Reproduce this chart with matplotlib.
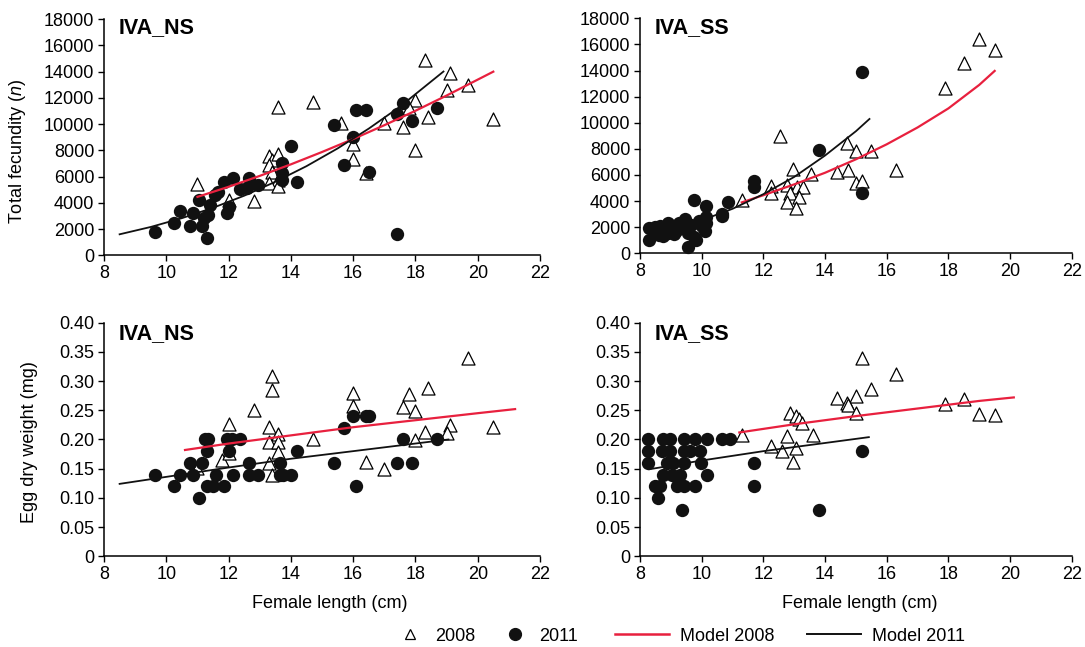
import matplotlib
matplotlib.use('Agg')
import matplotlib.pyplot as plt
from matplotlib.lines import Line2D

plt.rcParams['font.family'] = ['Liberation Sans', 'DejaVu Sans']
plt.rcParams['mathtext.fontset'] = 'custom'
plt.rcParams['mathtext.rm'] = 'Liberation Sans'
plt.rcParams['mathtext.it'] = 'Liberation Sans:italic'

RED = '#e8203e'
FS = 13

# -----------------------------
# Fecundity, IVA_NS
# -----------------------------
ns_fec_08_len = [18.3, 19.1, 19.7, 19.0, 18.0, 17.8, 13.6, 14.7, 15.6, 17.0, 17.6, 18.4, 20.5,
                 18.0, 16.0, 16.0, 16.4, 13.3, 13.4, 13.6, 13.3, 13.4, 13.6, 13.3, 13.6, 11.0,
                 12.8, 12.0]
ns_fec_08_val = [14850, 13900, 12950, 12600, 11800, 11200, 11300, 11650, 10050, 10100, 9800, 10550,
                 10400, 8050, 8500, 7300, 6300, 7550, 7250, 7750, 6900, 6350, 5750, 5500, 5250, 5400,
                 4100, 4200]
ns_fec_11_len = [9.65, 10.25, 10.45, 10.75, 10.85, 11.05, 11.15, 11.3, 11.35, 11.4, 11.55, 11.65,
                 11.85, 11.95, 12.0, 12.15, 12.35, 12.6, 12.65, 12.95, 13.7, 13.7, 13.7, 14.0, 14.2,
                 15.4, 15.7, 16.0, 16.1, 16.4, 16.5, 17.4, 17.4, 17.6, 17.9, 18.7, 11.2]
ns_fec_11_val = [1800, 2480, 3400, 2230, 3200, 4210, 2230, 1290, 3070, 3830, 4590, 4850,
                 5600, 3200, 3700, 5860, 5030, 5100, 5860, 5350, 7000, 6250, 5730, 8300, 5600,
                 9950, 6880, 9000, 11050, 11050, 6350, 1650, 10800, 11600, 10250, 11200, 2850]
ns_fec_m08_len = [11.0, 12.0, 13.0, 14.0, 15.0, 16.0, 17.0, 18.0, 19.0, 20.5]
ns_fec_m08_val = [4450, 5220, 6050, 6930, 7870, 8860, 9910, 11010, 12170, 13990]
ns_fec_m11_len = [8.5, 9.5, 10.5, 11.5, 12.5, 13.5, 14.5, 15.5, 16.5, 17.5, 18.9]
ns_fec_m11_val = [1600, 2160, 2830, 3620, 4540, 5600, 6790, 8140, 9650, 11320, 14000]

# -----------------------------
# Fecundity, IVA_SS
# -----------------------------
ss_fec_08_len = [19.0, 19.5, 18.5, 17.9, 12.55, 14.7, 15.0, 15.5, 16.3, 14.4, 14.75, 12.95, 13.55,
                 15.0, 15.2, 12.25, 12.25, 12.75, 13.1, 13.3, 12.85, 13.15, 12.75, 13.05, 11.3]
ss_fec_08_val = [16400, 15550, 14600, 12700, 8950, 8450, 7850, 7850, 6400, 6250, 6350, 6450, 6100,
                 5350, 5500, 5150, 4650, 5250, 5050, 5050, 4600, 4350, 3900, 3450, 4100]
ss_fec_11_len = [15.2, 13.8, 11.7, 11.7, 15.2, 10.85, 10.65, 10.15, 9.75, 10.15, 9.55, 9.75,
                 8.3, 8.3, 8.45, 8.65, 8.75, 8.9, 9.1, 9.15, 9.25, 9.45, 9.55, 9.8, 9.9, 10.0,
                 10.1, 10.15, 10.65, 8.5, 8.9, 9.3, 9.65, 8.6]
ss_fec_11_val = [13850, 7900, 5550, 5100, 4650, 3950, 3000, 3600, 4100, 2300, 450, 1250,
                 1950, 1050, 1700, 2100, 1300, 2350, 1450, 1700, 2350, 2600, 1550, 1050, 2450, 2100,
                 1700, 2750, 2850, 2000, 1550, 2000, 2200, 1400]
ss_fec_m08_len = [11.3, 12.0, 13.0, 14.0, 15.0, 16.0, 17.0, 18.0, 19.0, 19.5]
ss_fec_m08_val = [3900, 4450, 5280, 6170, 7200, 8350, 9640, 11100, 12900, 13970]
ss_fec_m11_len = [8.3, 9.0, 10.0, 11.0, 12.0, 13.0, 14.0, 15.0, 15.44]
ss_fec_m11_val = [1360, 1770, 2530, 3410, 4530, 5850, 7490, 9350, 10290]

# -----------------------------
# Egg dry weight, IVA_NS
# -----------------------------
ns_egg_08_len = [19.7, 13.4, 13.4, 16.0, 16.0, 17.8, 18.4, 17.6, 18.0, 12.8, 12.0, 13.3, 13.6, 13.3,
                 13.6, 14.7, 18.3, 19.1, 19.0, 18.0, 20.5, 13.6, 13.3, 11.8, 12.0, 16.4, 17.0,
                 11.0, 13.4]
ns_egg_08_val = [0.339, 0.309, 0.285, 0.279, 0.258, 0.278, 0.288, 0.255, 0.249, 0.251, 0.227, 0.222,
                 0.209, 0.196, 0.195, 0.200, 0.212, 0.224, 0.211, 0.199, 0.221, 0.178, 0.159,
                 0.165, 0.176, 0.162, 0.149, 0.151, 0.139]
ns_egg_11_len = [9.65, 10.25, 10.45, 10.75, 10.85, 11.05, 11.15, 11.25, 11.35, 11.3, 11.3, 11.5,
                 11.6, 11.85, 11.95, 12.0, 12.15, 12.1, 12.35, 12.65, 12.65, 12.95, 13.65, 13.65,
                 13.75, 14.0, 14.2, 15.4, 15.7, 16.0, 16.1, 16.4, 16.5, 17.4, 17.6, 17.9, 18.7]
ns_egg_11_val = [0.140, 0.120, 0.140, 0.160, 0.140, 0.100, 0.160, 0.200, 0.200, 0.180, 0.120, 0.120,
                 0.140, 0.120, 0.200, 0.180, 0.140, 0.200, 0.200, 0.160, 0.140, 0.140, 0.160, 0.140,
                 0.140, 0.140, 0.180, 0.160, 0.220, 0.240, 0.120, 0.240, 0.240, 0.160, 0.200,
                 0.160, 0.200]
ns_egg_m08_len = [10.6, 12.0, 14.0, 16.0, 18.0, 20.0, 21.2]
ns_egg_m08_val = [0.182, 0.193, 0.207, 0.221, 0.233, 0.245, 0.252]
ns_egg_m11_len = [8.5, 10.0, 12.0, 14.0, 16.0, 19.06]
ns_egg_m11_val = [0.124, 0.136, 0.152, 0.167, 0.180, 0.200]

# -----------------------------
# Egg dry weight, IVA_SS
# -----------------------------
ss_egg_08_len = [15.2, 16.3, 15.5, 14.4, 15.0, 14.7, 14.75, 15.0, 17.9, 18.5, 19.0, 19.5, 12.85,
                 13.05, 13.15, 13.25, 11.3, 12.75, 13.6, 12.25, 12.6, 13.05, 12.95]
ss_egg_08_val = [0.339, 0.312, 0.286, 0.271, 0.275, 0.262, 0.259, 0.245, 0.260, 0.269, 0.243, 0.242,
                 0.246, 0.240, 0.235, 0.228, 0.208, 0.206, 0.207, 0.188, 0.181, 0.185, 0.162]
ss_egg_11_len = [8.27, 8.76, 8.97, 9.41, 9.78, 10.18, 10.65, 10.92,
                 8.27, 8.70, 8.97, 9.41, 9.62, 9.95, 15.2,
                 8.27, 8.86, 9.08, 9.41, 9.97, 11.7,
                 8.76, 9.03, 9.30, 10.18,
                 8.49, 8.65, 9.19, 9.41, 9.78, 11.7,
                 8.59, 9.37, 13.8]
ss_egg_11_val = [0.200, 0.200, 0.200, 0.200, 0.200, 0.200, 0.200, 0.200,
                 0.180, 0.180, 0.180, 0.180, 0.180, 0.180, 0.180,
                 0.160, 0.160, 0.160, 0.160, 0.160, 0.160,
                 0.140, 0.140, 0.140, 0.140,
                 0.120, 0.120, 0.120, 0.120, 0.120, 0.120,
                 0.100, 0.080, 0.080]
ss_egg_m08_len = [11.22, 13.0, 15.0, 17.0, 19.0, 20.12]
ss_egg_m08_val = [0.212, 0.226, 0.240, 0.253, 0.266, 0.272]
ss_egg_m11_len = [8.3, 10.0, 12.0, 14.0, 15.42]
ss_egg_m11_val = [0.149, 0.164, 0.180, 0.194, 0.204]

# Axis ticks
x_ticks = [8, 10, 12, 14, 16, 18, 20, 22]
fec_ticks = [0, 2000, 4000, 6000, 8000, 10000, 12000, 14000, 16000, 18000]
egg_ticks = [0, 0.05, 0.10, 0.15, 0.20, 0.25, 0.30, 0.35, 0.40]
egg_tick_labels = ['0', '0.05', '0.10', '0.15', '0.20', '0.25', '0.30', '0.35', '0.40']


def draw_panel(ax, t_x, t_y, d_x, d_y, m08_x, m08_y, m11_x, m11_y, title, yticks, ylabels, title_y):
    ax.scatter(t_x, t_y, marker='^', s=88, facecolors='white', edgecolors='black',
               linewidths=0.9, zorder=2, clip_on=False)
    ax.scatter(d_x, d_y, marker='o', s=92, color='#111111', linewidths=0, zorder=3, clip_on=False)
    ax.plot(m08_x, m08_y, color=RED, lw=1.6, zorder=4)
    ax.plot(m11_x, m11_y, color='#111111', lw=1.3, zorder=4)

    ax.set_xlim(8, 22)
    ax.set_ylim(yticks[0], yticks[-1])
    ax.set_xticks(x_ticks)
    ax.set_yticks(yticks)
    ax.set_yticklabels(ylabels)
    ax.tick_params(direction='out', length=4, width=1, labelsize=FS, pad=3, colors='black')
    for s in ['top', 'right']:
        ax.spines[s].set_visible(False)
    for s in ['left', 'bottom']:
        ax.spines[s].set_linewidth(1.1)
    ax.text(0.033, title_y, title, transform=ax.transAxes, fontsize=15.5,
            fontweight='bold', va='baseline', ha='left')


fig = plt.figure(figsize=(10.85, 6.47), dpi=100)

ax_tl = fig.add_axes([0.0959, 0.6054, 0.4018, 0.3652])
ax_tr = fig.add_axes([0.5899, 0.6085, 0.3979, 0.3632])
ax_bl = fig.add_axes([0.0959, 0.1402, 0.4018, 0.3611])
ax_br = fig.add_axes([0.5899, 0.1402, 0.3979, 0.3611])

fec_labels = [str(v) for v in fec_ticks]

draw_panel(ax_tl, ns_fec_08_len, ns_fec_08_val, ns_fec_11_len, ns_fec_11_val,
           ns_fec_m08_len, ns_fec_m08_val, ns_fec_m11_len, ns_fec_m11_val,
           'IVA_NS', fec_ticks, fec_labels, 0.94)
draw_panel(ax_tr, ss_fec_08_len, ss_fec_08_val, ss_fec_11_len, ss_fec_11_val,
           ss_fec_m08_len, ss_fec_m08_val, ss_fec_m11_len, ss_fec_m11_val,
           'IVA_SS', fec_ticks, fec_labels, 0.936)
draw_panel(ax_bl, ns_egg_08_len, ns_egg_08_val, ns_egg_11_len, ns_egg_11_val,
           ns_egg_m08_len, ns_egg_m08_val, ns_egg_m11_len, ns_egg_m11_val,
           'IVA_NS', egg_ticks, egg_tick_labels, 0.929)
draw_panel(ax_br, ss_egg_08_len, ss_egg_08_val, ss_egg_11_len, ss_egg_11_val,
           ss_egg_m08_len, ss_egg_m08_val, ss_egg_m11_len, ss_egg_m11_val,
           'IVA_SS', egg_ticks, egg_tick_labels, 0.929)

ax_tl.set_ylabel('Total fecundity ($\\it{n}$)', fontsize=FS)
ax_tl.yaxis.set_label_coords(-0.174, 0.44)
ax_bl.set_ylabel('Egg dry weight (mg)', fontsize=FS)
ax_bl.yaxis.set_label_coords(-0.151, 0.49)
ax_bl.set_xlabel('Female length (cm)', fontsize=FS)
ax_br.set_xlabel('Female length (cm)', fontsize=FS)
ax_bl.xaxis.set_label_coords(0.518, -0.165)
ax_br.xaxis.set_label_coords(0.51, -0.165)

# Legend: markers and model lines in two groups so each gets its own handle length
marker_handles = [
    Line2D([], [], marker='^', ls='none', markersize=7.5, markerfacecolor='white',
           markeredgecolor='black', markeredgewidth=0.9),
    Line2D([], [], marker='o', ls='none', markersize=8.5, color='#111111'),
]
line_handles = [
    Line2D([], [], color=RED, lw=1.8),
    Line2D([], [], color='#111111', lw=1.4),
]
fig.legend(marker_handles, ['2008', '2011'], loc='center', bbox_to_anchor=(0.449, 0.017),
           ncol=2, frameon=False, fontsize=FS, handlelength=1.55, handletextpad=0.6,
           columnspacing=1.4)
fig.legend(line_handles, ['Model 2008', 'Model 2011'], loc='center', bbox_to_anchor=(0.728, 0.017),
           ncol=2, frameon=False, fontsize=FS, handlelength=3.0, handletextpad=0.6,
           columnspacing=1.8)

fig.savefig('out.png', dpi=100)
